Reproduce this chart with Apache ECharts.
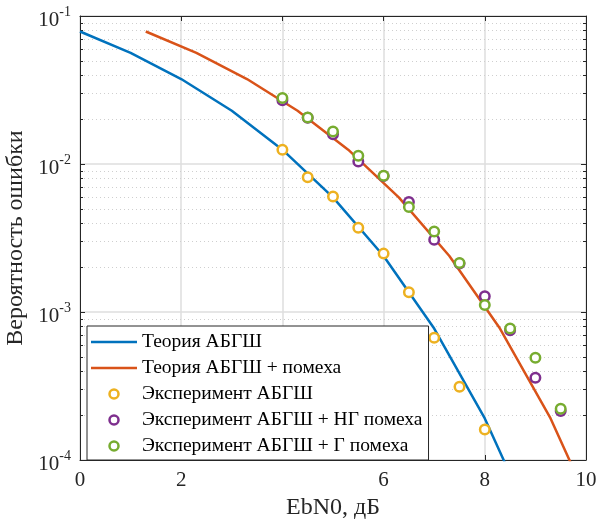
<!DOCTYPE html>
<html>
<head>
<meta charset="utf-8">
<script src="https://cdn.jsdelivr.net/npm/echarts@6/dist/echarts.min.js"></script>
<style>html,body{margin:0;padding:0;background:#fff}#c{width:599px;height:526px}</style>
</head>
<body>
<div id="c"></div>
<script>
// Theory curves
var theoryX = [0, 1, 2, 3, 4, 5, 6, 7, 8, 9];
var theoryAwgn = [0.0786, 0.0563, 0.0375, 0.0229, 0.0125, 0.00595, 0.00239, 0.000773, 0.000191, 0.0000336];
var theoryJamX = [1.3, 2.3, 3.3, 4.3, 5.3, 6.3, 7.3, 8.3, 9.3, 10.3];
var theoryJam = [0.0786, 0.0563, 0.0375, 0.0229, 0.0125, 0.00595, 0.00239, 0.000773, 0.000191, 0.0000336];
// Experiments
var expAwgnX = [4, 4.5, 5, 5.5, 6, 6.5, 7, 7.5, 8];
var expAwgn = [0.01247, 0.00815, 0.00603, 0.00371, 0.00248, 0.00136, 0.000669, 0.000312, 0.000161];
var expJamX = [4, 4.5, 5, 5.5, 6, 6.5, 7, 7.5, 8, 8.5, 9, 9.5];
var expNgJam = [0.0270, 0.0205, 0.0159, 0.0104, 0.0083, 0.00553, 0.00308, 0.00213, 0.001276, 0.000752, 0.000359, 0.000214];
var expGJam = [0.0279, 0.0206, 0.0166, 0.01136, 0.00832, 0.00512, 0.00350, 0.002145, 0.001117, 0.000773, 0.00049, 0.000222];
// Axis ticks
var xTicks = [0, 2, 4, 6, 8, 10];
var xTickLabels = ['0', '2', '', '6', '8', '10'];
var yMinorTicks = [];
[0.0001, 0.001, 0.01].forEach(function (d) { for (var m = 2; m <= 9; m++) yMinorTicks.push(+(m * d).toPrecision(3)); });

var names = ['Теория АБГШ', 'Теория АБГШ + помеха', 'Эксперимент АБГШ', 'Эксперимент АБГШ + НГ помеха', 'Эксперимент АБГШ + Г помеха'];
var colors = ['#0072BD', '#D95319', '#EDB120', '#7E2F8E', '#77AC30'];
var FONT = 'Liberation Serif';
var TXT = '#262626';
var LINE_ICON = 'path://M0 0H46V2.5H0Z';

function zip(xs, ys) { return xs.map(function (x, i) { return [x, ys[i]]; }); }

var chart = echarts.init(document.getElementById('c'), null, { renderer: 'canvas' });
var gridCol = '#dedede';
function markers(i, xs, ys) {
  return { name: names[i], type: 'line', data: zip(xs, ys), symbol: 'circle', symbolSize: 9.5, showSymbol: true,
    lineStyle: { width: 0, opacity: 0 },
    itemStyle: { color: '#fff', borderColor: colors[i], borderWidth: 2.5, opacity: 1 } };
}
function circleItem(i) {
  return { name: names[i], icon: 'circle',
    itemStyle: { color: '#fff', borderColor: colors[i], borderWidth: 2.5 } };
}
chart.setOption({
  animation: false,
  backgroundColor: '#fff',
  grid: { left: 80, top: 16, right: 13, bottom: 66, containLabel: false, outerBoundsMode: 'none' },
  xAxis: [{
    type: 'value', min: 0, max: 10, interval: 2, position: 'bottom',
    name: 'EbN0, дБ', nameLocation: 'middle', nameGap: 32,
    nameTextStyle: { fontFamily: FONT, fontSize: 24, color: TXT },
    axisLine: { show: true, onZero: false, lineStyle: { color: TXT, width: 1 } },
    axisTick: { show: true, inside: true, length: 5, lineStyle: { color: TXT } },
    axisLabel: { fontFamily: FONT, fontSize: 21, color: TXT, margin: 10,
      formatter: function (v) { var i = xTicks.indexOf(v); return i >= 0 ? xTickLabels[i] : ''; } },
    splitLine: { show: true, lineStyle: { color: gridCol, width: 1.5 } }
  }, {
    type: 'value', min: 0, max: 10, interval: 2, position: 'top',
    axisLine: { show: true, onZero: false, lineStyle: { color: TXT, width: 1 } },
    axisTick: { show: true, inside: true, length: 5, lineStyle: { color: TXT } },
    axisLabel: { show: false }, splitLine: { show: false }
  }],
  yAxis: [{
    type: 'log', logBase: 10, min: 0.0001, max: 0.1, position: 'left',
    name: 'Вероятность ошибки', nameLocation: 'middle', nameGap: 47, nameRotate: 90,
    nameTextStyle: { fontFamily: FONT, fontSize: 24, color: TXT },
    axisLine: { show: true, onZero: false, lineStyle: { color: TXT, width: 1 } },
    axisTick: { show: true, inside: true, length: 5, lineStyle: { color: TXT } },
    axisLabel: {
      margin: 9,
      formatter: function (v) { var e = Math.round(Math.log10(v)); return '{b|10}{s|' + e + '}'; },
      rich: {
        b: { fontFamily: FONT, fontSize: 21, color: TXT, lineHeight: 21, padding: [8, 0, 0, 0] },
        s: { fontFamily: FONT, fontSize: 14, color: TXT, lineHeight: 14, verticalAlign: 'top' }
      }
    },
    splitLine: { show: true, lineStyle: { color: gridCol, width: 1.5 } }
  }, {
    type: 'log', logBase: 10, min: 0.0001, max: 0.1, position: 'right',
    axisLine: { show: true, onZero: false, lineStyle: { color: TXT, width: 1 } },
    axisTick: { show: true, inside: true, length: 5, lineStyle: { color: TXT } },
    axisLabel: { show: false }, splitLine: { show: false }
  }],
  legend: {
    orient: 'vertical', left: 87, top: 326,
    padding: [6, 6, 4, 4], itemGap: 6, itemWidth: 46, itemHeight: 9,
    backgroundColor: '#fff', borderColor: TXT, borderWidth: 1,
    textStyle: { fontFamily: FONT, fontSize: 19.5, color: '#000', lineHeight: 18 },
    data: [
      { name: names[0], icon: LINE_ICON },
      { name: names[1], icon: LINE_ICON },
      circleItem(2), circleItem(3), circleItem(4)
    ]
  },
  series: [
    {
      type: 'custom', silent: true, xAxisIndex: 0, yAxisIndex: 0, clip: false,
      data: yMinorTicks.map(function (v) { return [0, v]; }),
      renderItem: function (params, api) {
        var v = api.value(1);
        var p0 = api.coord([0, v]);
        var p1 = api.coord([10, v]);
        var y = Math.round(p0[1]) + 0.5;
        return { type: 'group', children: [
          { type: 'line', shape: { x1: p0[0], y1: y, x2: p1[0], y2: y }, style: { stroke: '#cfcfcf', lineWidth: 1, lineDash: [1, 3] } },
          { type: 'line', shape: { x1: p0[0], y1: y, x2: p0[0] + 3, y2: y }, style: { stroke: TXT, lineWidth: 1 } },
          { type: 'line', shape: { x1: p1[0] - 3, y1: y, x2: p1[0], y2: y }, style: { stroke: TXT, lineWidth: 1 } }
        ] };
      }
    },
    { name: names[0], type: 'line', data: zip(theoryX, theoryAwgn), symbol: 'none', showSymbol: false, clip: true,
      itemStyle: { color: colors[0] }, lineStyle: { color: colors[0], width: 2.5 } },
    { name: names[1], type: 'line', data: zip(theoryJamX, theoryJam), symbol: 'none', showSymbol: false, clip: true,
      itemStyle: { color: colors[1] }, lineStyle: { color: colors[1], width: 2.5 } },
    markers(2, expAwgnX, expAwgn),
    markers(3, expJamX, expNgJam),
    markers(4, expJamX, expGJam)
  ]
});
</script>
</body>
</html>
